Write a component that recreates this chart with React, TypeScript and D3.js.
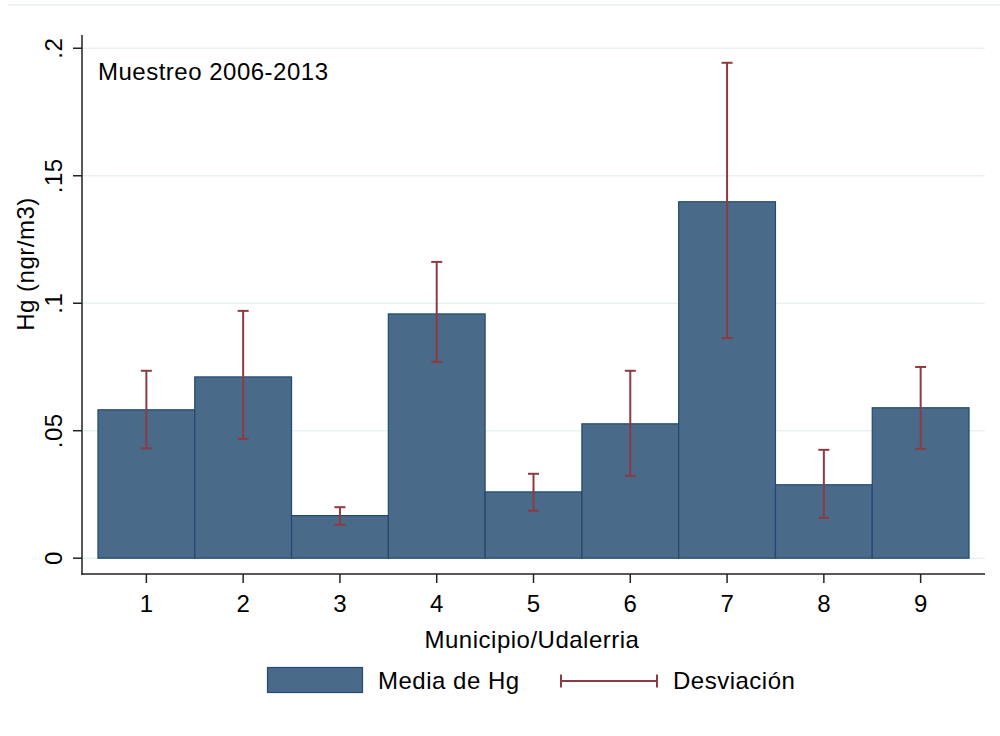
import React from "react";
import * as d3 from "d3";

const categories = [1, 2, 3, 4, 5, 6, 7, 8, 9];
const meanHg = [0.0582, 0.0711, 0.0167, 0.0958, 0.026, 0.0527, 0.1398, 0.0288, 0.059];
const devLow = [0.0431, 0.0468, 0.0131, 0.077, 0.0186, 0.0323, 0.0863, 0.0158, 0.0429];
const devHigh = [0.0735, 0.097, 0.02, 0.1162, 0.0331, 0.0735, 0.1943, 0.0425, 0.075];
const yTicks = [0, 0.05, 0.1, 0.15, 0.2];
const yTickLabels = ["0", ".05", ".1", ".15", ".2"];

const W = 1000;
const H = 736;
const FONT = "'Liberation Sans', Arial, sans-serif";
const BAR_FILL = "#4a6a8a";
const BAR_STROKE = "#1f4a72";
const ERR = "#8e3a42";
const GRID = "#e9f1f3";

export default function App() {
  const x = d3.scaleLinear().domain([0.335, 9.665]).range([82, 985]);
  const y = d3.scaleLinear().domain([-0.0062, 0.2052]).range([574, 35]);
  const bw = x(2) - x(1);
  const cap = 5.5;
  const fs = 24;
  const ls = 0.5;

  return (
    <svg
      width={W}
      height={H}
      style={{ position: "absolute", left: 0, top: 0, background: "#fff" }}
      fontFamily={FONT}
    >
      <rect x={0} y={0} width={W} height={H} fill="#fff" />
      <line x1={8} x2={1000} y1={5} y2={5} stroke="#e6eef2" strokeWidth={1.5} />
      {/* grid */}
      {yTicks.map((t) => (
        <line key={"g" + t} x1={82} x2={985} y1={y(t)} y2={y(t)} stroke={GRID} strokeWidth={1.5} />
      ))}
      {/* bars */}
      {categories.map((c, i) => (
        <rect
          key={"b" + c}
          x={x(c) - bw / 2}
          y={y(meanHg[i])}
          width={bw}
          height={y(0) - y(meanHg[i])}
          fill={BAR_FILL}
          stroke={BAR_STROKE}
          strokeWidth={1.2}
        />
      ))}
      {/* error bars */}
      {categories.map((c, i) => (
        <g key={"e" + c} stroke={ERR} strokeWidth={2}>
          <line x1={x(c)} x2={x(c)} y1={y(devLow[i])} y2={y(devHigh[i])} />
          <line x1={x(c) - cap} x2={x(c) + cap} y1={y(devLow[i])} y2={y(devLow[i])} />
          <line x1={x(c) - cap} x2={x(c) + cap} y1={y(devHigh[i])} y2={y(devHigh[i])} />
        </g>
      ))}
      {/* axes */}
      <line x1={82} x2={82} y1={35} y2={574.75} stroke="#222" strokeWidth={1.5} />
      <line x1={81.25} x2={985} y1={574} y2={574} stroke="#222" strokeWidth={1.5} />
      {yTicks.map((t, i) => (
        <g key={"yt" + t}>
          <line x1={73} x2={82} y1={y(t)} y2={y(t)} stroke="#222" strokeWidth={1.5} />
          <text
            transform={`translate(61.5,${y(t)}) rotate(-90)`}
            textAnchor="middle"
            fontSize={fs}
            letterSpacing={ls}
            fill="#000"
          >
            {yTickLabels[i]}
          </text>
        </g>
      ))}
      {categories.map((c) => (
        <g key={"xt" + c}>
          <line x1={x(c)} x2={x(c)} y1={574} y2={583} stroke="#222" strokeWidth={1.5} />
          <text x={x(c)} y={611.7} textAnchor="middle" fontSize={fs} fill="#000">
            {c}
          </text>
        </g>
      ))}
      {/* axis titles */}
      <text x={532} y={648} textAnchor="middle" fontSize={fs} letterSpacing={ls} fill="#000">
        Municipio/Udalerria
      </text>
      <text
        transform={`translate(34,264) rotate(-90)`}
        textAnchor="middle"
        fontSize={fs}
        letterSpacing={ls}
        fill="#000"
      >
        Hg (ngr/m3)
      </text>
      {/* note */}
      <text x={98} y={80} fontSize={fs} letterSpacing={ls} fill="#000">
        Muestreo 2006-2013
      </text>
      {/* legend */}
      <rect x={267.5} y={667.5} width={95} height={25} fill={BAR_FILL} stroke={BAR_STROKE} strokeWidth={1.2} />
      <text x={378} y={689} fontSize={fs} letterSpacing={ls} fill="#000">
        Media de Hg
      </text>
      <g stroke={ERR} strokeWidth={2}>
        <line x1={561} x2={657} y1={681} y2={681} />
        <line x1={561} x2={561} y1={674.5} y2={687.5} />
        <line x1={657} x2={657} y1={674.5} y2={687.5} />
      </g>
      <text x={673} y={689} fontSize={fs} letterSpacing={ls} fill="#000">
        Desviación
      </text>
    </svg>
  );
}
